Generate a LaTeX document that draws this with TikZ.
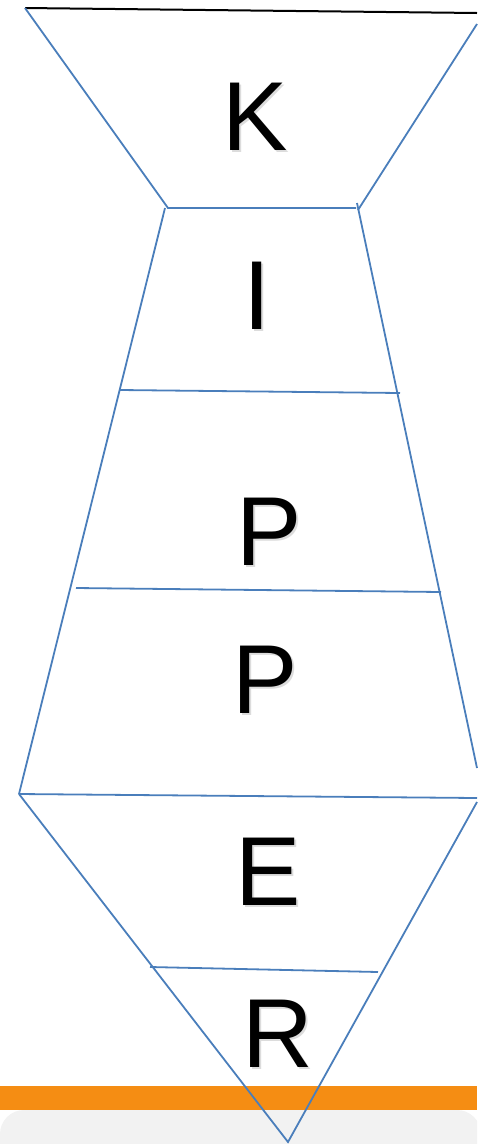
\documentclass[tikz,border=0pt]{standalone}
\usepackage{fontspec}
\setmainfont{Liberation Sans}
\definecolor{tieblue}{HTML}{4A7EBB}
\definecolor{bandorange}{HTML}{F58D13}
\definecolor{panelgray}{HTML}{F2F2F2}
\begin{document}
\begin{tikzpicture}[x=1pt,y=-1pt,
  tieline/.style={draw=tieblue,line width=1.8pt},
  toplineblack/.style={draw=black,line width=2pt},
  letter/.style={inner sep=0pt,font=\fontsize{98}{98}\selectfont,text=black},
  lettershadow/.style={inner sep=0pt,font=\fontsize{98}{98}\selectfont,text=black!30,opacity=0.45}]
\useasboundingbox (0,0) rectangle (477,1144);
% background band and panel
\fill[bandorange] (0,1086) rectangle (477,1110);
\begin{scope}
\clip (0,0) rectangle (477,1144);
\fill[panelgray,rounded corners=24pt] (0,1170) -- (0,1110) -- (481,1110) -- (481,1170) -- cycle;
\end{scope}
% key points
\coordinate (tl) at (25,8);
\coordinate (tr) at (477,13);
\coordinate (trb) at (477,24);
\coordinate (kl) at (168,208);
\coordinate (kr) at (356,208);
\coordinate (krt) at (358,210);
\coordinate (bl0) at (165,208);
\coordinate (br0) at (357,203);
\coordinate (l1) at (120,390);
\coordinate (r1) at (400,393);
\coordinate (l2) at (76,588);
\coordinate (r2) at (441,592);
\coordinate (bl) at (19,794);
\coordinate (br) at (477,798);
\coordinate (brs) at (477,768);
\coordinate (brt) at (477,802);
\coordinate (tip) at (288,1142);
\coordinate (l3) at (150,967);
\coordinate (r3) at (378,972);
% knot
\draw[toplineblack] (tl) -- (tr);
\draw[tieline] (tl) -- (kl) -- (kr);
\draw[tieline] (trb) -- (krt);
% body
\draw[tieline] (bl0) -- (bl);
\draw[tieline] (br0) -- (brs);
\draw[tieline] (l1) -- (r1);
\draw[tieline] (l2) -- (r2);
\draw[tieline] (bl) -- (br);
% bottom point
\draw[tieline] (bl) -- (tip) -- (brt);
\draw[tieline] (l3) -- (r3);
% letters
\foreach \n/\c/\x/\y in {K/K/255/117,I/I/257/296,P1/P/269/532,P2/P/265/680,E/E/268/872,R/R/278/1034}{
  \node[lettershadow] at (\x+2,\y+2) {\c};
  \node[letter] (\n) at (\x,\y) {\c};
}
\end{tikzpicture}
\end{document}
